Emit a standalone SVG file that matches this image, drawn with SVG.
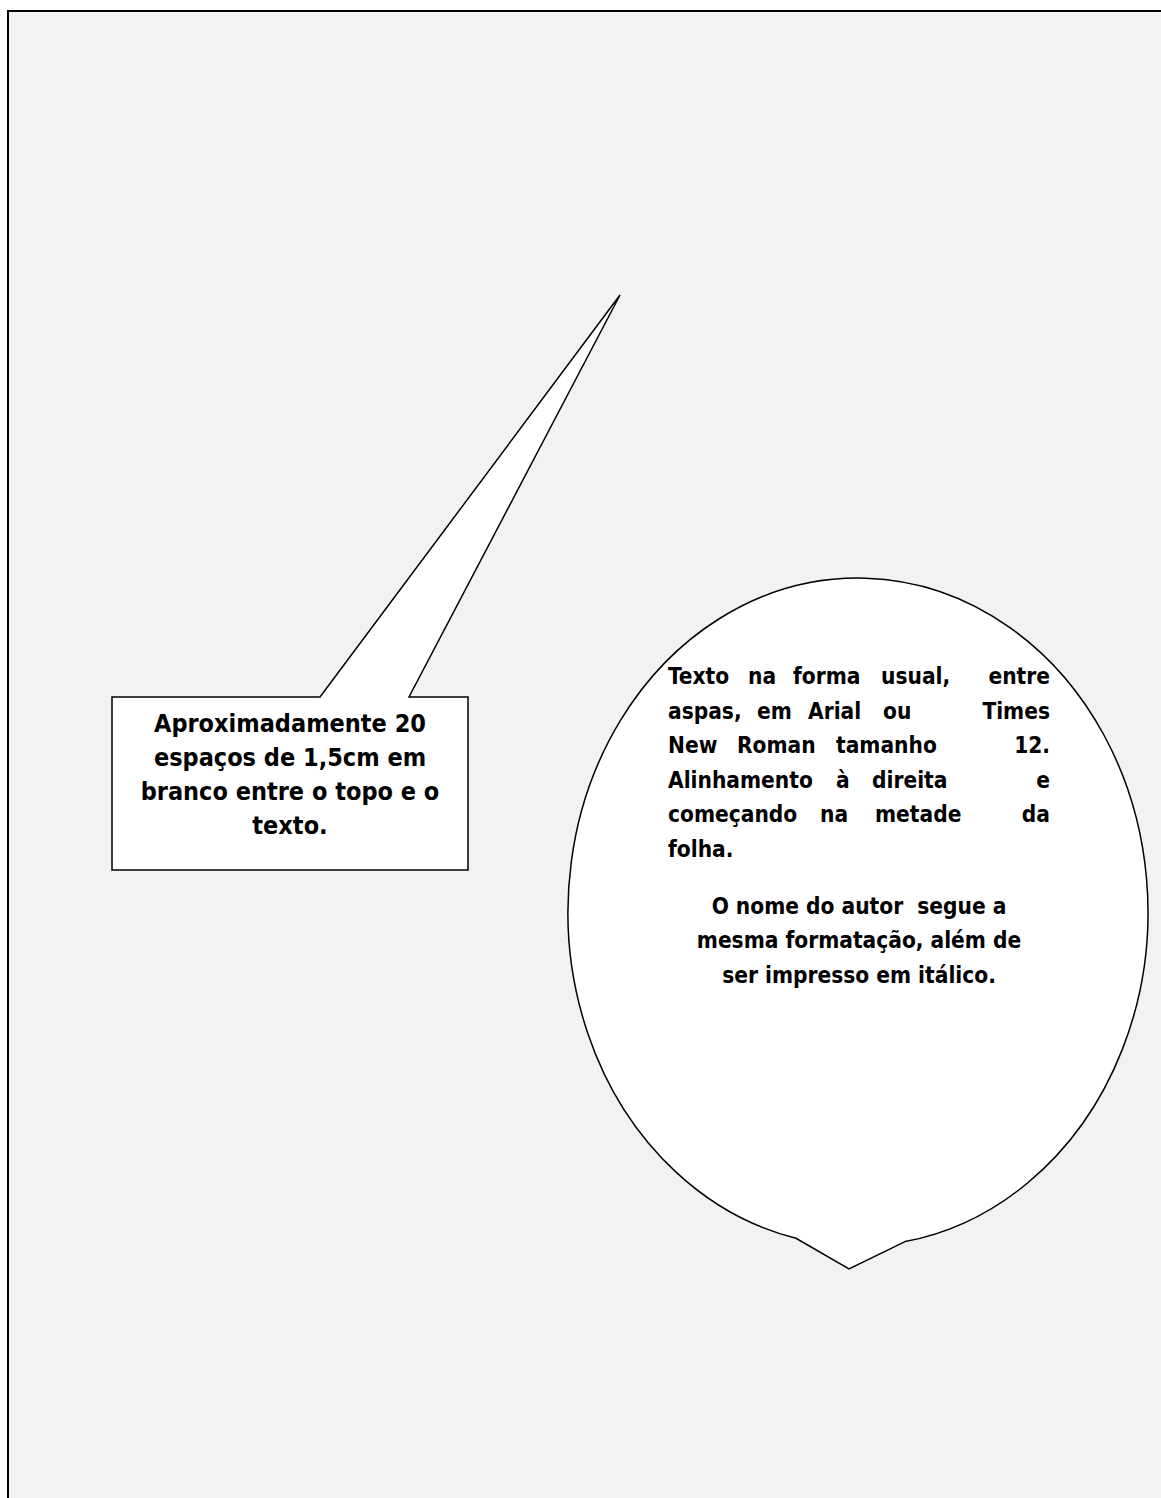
<svg xmlns="http://www.w3.org/2000/svg" width="1161" height="1498" viewBox="0 0 1161 1498">
<style>
.shape{fill:#ffffff;stroke:#000000;stroke-width:1.5;stroke-linejoin:miter}
.t{font-family:"DejaVu Sans Condensed","DejaVu Sans",sans-serif;font-stretch:condensed;font-weight:bold;font-size:22.5px;fill:#000000}
.b{font-size:25px}
.c{text-anchor:middle}
</style>
<rect x="0" y="0" width="1161" height="1498" fill="#ffffff"/>
<rect x="8" y="11" width="1153" height="1487" fill="#f2f2f2"/>
<g id="page-border">
<line x1="7" y1="11" x2="1161" y2="11" stroke="#000" stroke-width="2"/>
<line x1="8" y1="10" x2="8" y2="1498" stroke="#000" stroke-width="2"/>
</g>
<g id="callout-box">
<path class="shape" d="M112 697 L320 697 L620 295 L409 697 L468 697 L468 870 L112 870 Z"/>
<text class="t b c" x="290" y="732">Aproximadamente 20</text>
<text class="t b c" x="290" y="766">espaços de 1,5cm em</text>
<text class="t b c" x="290" y="800">branco entre o topo e o</text>
<text class="t b c" x="290" y="834">texto.</text>
</g>
<g id="callout-ellipse">
<path class="shape" d="M796 1238.3 A290 334 0 1 1 905 1241.6 L849 1269 Z"/>
<text class="t" y="684"><tspan x="668">Texto</tspan><tspan x="748">na</tspan><tspan x="793">forma</tspan><tspan x="881">usual,</tspan><tspan x="1050" text-anchor="end">entre</tspan></text>
<text class="t" y="719"><tspan x="668">aspas,</tspan><tspan x="757">em</tspan><tspan x="808">Arial</tspan><tspan x="883">ou</tspan><tspan x="1050" text-anchor="end">Times</tspan></text>
<text class="t" y="753"><tspan x="668">New</tspan><tspan x="737">Roman</tspan><tspan x="836">tamanho</tspan><tspan x="1050" text-anchor="end">12.</tspan></text>
<text class="t" y="788"><tspan x="668">Alinhamento</tspan><tspan x="836">à</tspan><tspan x="872">direita</tspan><tspan x="1050" text-anchor="end">e</tspan></text>
<text class="t" y="822"><tspan x="668">começando</tspan><tspan x="820">na</tspan><tspan x="875">metade</tspan><tspan x="1050" text-anchor="end">da</tspan></text>
<text class="t" x="668" y="857">folha.</text>
<text class="t c" x="859" y="914" xml:space="preserve">O nome do autor  segue a</text>
<text class="t c" x="859" y="948">mesma formatação, além de</text>
<text class="t c" x="859" y="983">ser impresso em itálico.</text>
</g>
</svg>
